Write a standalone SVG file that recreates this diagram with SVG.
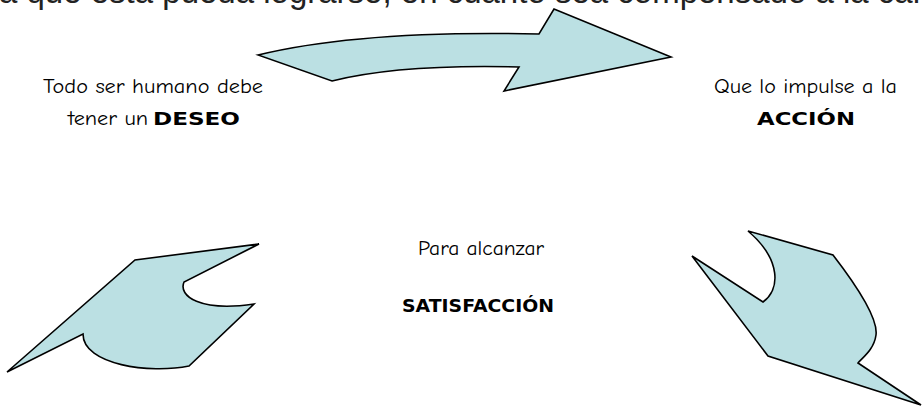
<svg xmlns="http://www.w3.org/2000/svg" width="922" height="407" viewBox="0 0 922 407">
<style>
.shape{fill:#BBE0E3;stroke:#000;stroke-width:1.6;stroke-linejoin:miter}
.t{font-family:"Comic Neue","Liberation Sans","DejaVu Sans",sans-serif;font-size:20px;fill:#000}
.b{font-family:"DejaVu Sans","Liberation Sans",sans-serif;font-weight:900;font-size:17px;fill:#000}
.top{font-family:"Liberation Sans",Arial,sans-serif;font-size:33px;fill:#222}
</style>
<rect width="922" height="407" fill="#fff"/>
<text class="top" x="-1" y="3">a que esta pueda lograrse, en cuanto sea compensado a la carencia</text>
<g id="connectors">
<path id="arrow-top" class="shape" d="M258,55 Q360,30 539,34 L554,9 L671,57 L504,91 L519,67 Q400,64 332,81 Z"/>
<path id="arrow-left" class="shape" d="M7,372 L135,260 L259,244 L184,282 C178,296 200,312 254,304 L189,366 C150,374 83,365 83,334 Z"/>
<path id="arrow-right" class="shape" d="M748,231 L833,255 C860,290 878,320 876,335 C874,350 862,358 858,363 L921,405 L768,356 L692,256 L763,302 C780,290 782,260 748,231 Z"/>
</g>
<g id="node-deseo">
<text class="t" x="43" y="93" textLength="220" lengthAdjust="spacingAndGlyphs">Todo ser humano debe</text>
<text class="t" x="68" y="125" textLength="80" lengthAdjust="spacingAndGlyphs">tener un</text>
<text class="b" x="153" y="125" textLength="87" lengthAdjust="spacingAndGlyphs">DESEO</text>
</g>
<g id="node-accion">
<text class="t" x="714" y="93" textLength="183" lengthAdjust="spacingAndGlyphs">Que lo impulse a la</text>
<text class="b" x="757" y="125" textLength="98" lengthAdjust="spacingAndGlyphs">ACCIÓN</text>
</g>
<g id="node-satisfaccion">
<text class="t" x="418" y="255" textLength="126" lengthAdjust="spacingAndGlyphs">Para alcanzar</text>
<text class="b" x="402" y="312" textLength="152" lengthAdjust="spacingAndGlyphs">SATISFACCIÓN</text>
</g>
</svg>
